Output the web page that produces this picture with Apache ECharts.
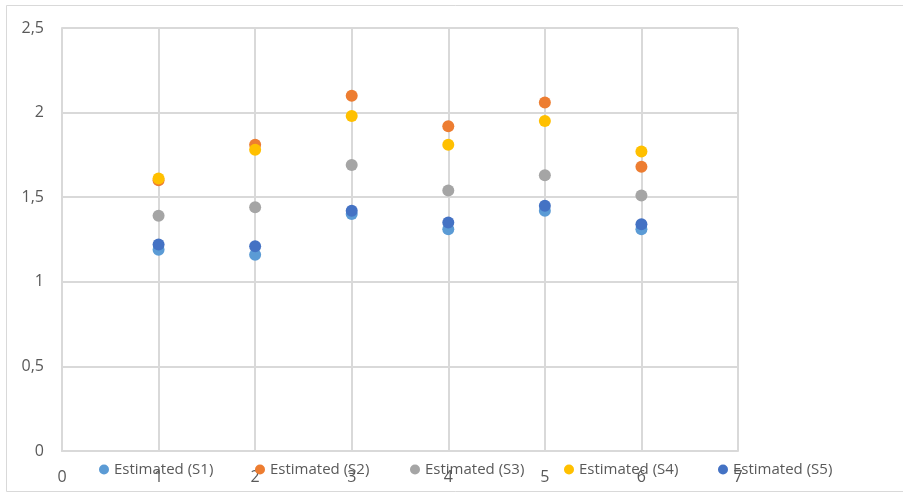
<!DOCTYPE html>
<html>
<head>
<meta charset="utf-8">
<script src="https://cdn.jsdelivr.net/npm/echarts@6/dist/echarts.min.js"></script>
<style>
  html, body { margin: 0; padding: 0; background: #ffffff; }
  #chart { width: 903px; height: 495px; }
</style>
</head>
<body>
<div id="chart"></div>
<script>
// Sample index on the horizontal axis
const xValues = [1, 2, 3, 4, 5, 6];

// Estimated values per series
const s1 = [1.19, 1.16, 1.40, 1.31, 1.42, 1.31];
const s2 = [1.60, 1.81, 2.10, 1.92, 2.06, 1.68];
const s3 = [1.39, 1.44, 1.69, 1.54, 1.63, 1.51];
const s4 = [1.61, 1.78, 1.98, 1.81, 1.95, 1.77];
const s5 = [1.22, 1.21, 1.42, 1.35, 1.45, 1.34];

const seriesNames = ['Estimated (S1)', 'Estimated (S2)', 'Estimated (S3)', 'Estimated (S4)', 'Estimated (S5)'];
const seriesValues = [s1, s2, s3, s4, s5];
const colors = ['#5B9BD5', '#ED7D31', '#A5A5A5', '#FFC000', '#4472C4'];

const FONT = '"Open Sans", "Liberation Sans", sans-serif';
const TEXT_COLOR = '#595959';
const GRID_COLOR = '#d9d9d9';

const chart = echarts.init(document.getElementById('chart'), null, { renderer: 'canvas' });

// One legend per entry so each sits at its own horizontal slot
const legendLefts = [99, 255, 410, 564, 718];
const legends = seriesNames.map((name, i) => ({
  data: [name],
  left: legendLefts[i],
  top: 462,
  padding: 0,
  icon: 'circle',
  itemWidth: 10,
  itemHeight: 10,
  itemGap: 0,
  selectedMode: false,
  textStyle: { color: TEXT_COLOR, fontSize: 15, fontFamily: FONT, padding: [0, 0, 0, 0] }
}));

const option = {
  animation: false,
  backgroundColor: '#ffffff',
  graphic: [{
    type: 'rect',
    silent: true,
    z: -10,
    shape: { x: 6.5, y: 5.5, width: 1000, height: 486 },
    style: { fill: 'none', stroke: GRID_COLOR, lineWidth: 1 }
  }],
  grid: { left: 62, top: 28, width: 676, height: 423, containLabel: false },
  legend: legends,
  xAxis: {
    type: 'value',
    min: 0,
    max: 7,
    interval: 1,
    axisLine: { show: true, lineStyle: { color: GRID_COLOR, width: 2 } },
    axisTick: { show: false },
    splitLine: { show: true, lineStyle: { color: GRID_COLOR, width: 2 } },
    axisLabel: { color: TEXT_COLOR, fontSize: 16, fontFamily: FONT, margin: 18 }
  },
  yAxis: {
    type: 'value',
    min: 0,
    max: 2.5,
    interval: 0.5,
    axisLine: { show: true, lineStyle: { color: GRID_COLOR, width: 2 } },
    axisTick: { show: false },
    splitLine: { show: true, lineStyle: { color: GRID_COLOR, width: 2 } },
    axisLabel: {
      color: TEXT_COLOR, fontSize: 16, fontFamily: FONT, margin: 18,
      formatter: v => String(v).replace('.', ',')
    }
  },
  series: seriesNames.map((name, i) => ({
    name: name,
    type: 'scatter',
    symbol: 'circle',
    symbolSize: 12,
    itemStyle: { color: colors[i], opacity: 1 },
    data: xValues.map((x, j) => [x, seriesValues[i][j]])
  }))
};

chart.setOption(option);
</script>
</body>
</html>
